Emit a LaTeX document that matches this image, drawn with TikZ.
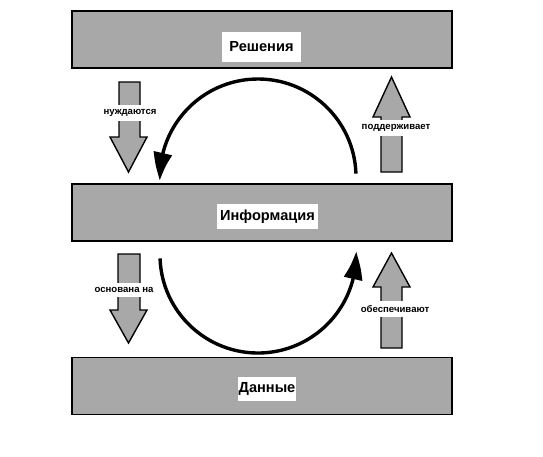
\documentclass[tikz,border=0pt]{standalone}
\usepackage{fontspec}
\setmainfont{Liberation Sans}
\usetikzlibrary{arrows.meta,bending}
\definecolor{bargray}{HTML}{A8A8A8}
\tikzset{
  bar/.style={draw=black, line width=1.6pt, fill=bargray, minimum width=380pt, minimum height=57pt, inner sep=0pt},
  mainlabel/.style={fill=white, font=\bfseries\fontsize{14.6}{17}\selectfont, inner sep=0pt},
  smalllabel/.style={fill=white, font=\bfseries\fontsize{9.6}{11}\selectfont, inner xsep=1pt, inner ysep=4pt},
  blockarrow/.style={draw=black, line width=1.4pt, fill=bargray, line join=miter},
  cycle arrow/.style={line width=3.4pt, -{Triangle[length=28pt,width=18pt,bend]}},
}
\begin{document}
\begin{tikzpicture}[x=1pt,y=-1pt]
\path[use as bounding box, fill=white] (0,0) rectangle (543,456);
% bars
\node[bar] (top) at (262,39.5) {};
\node[bar] (mid) at (262,212.5) {};
\node[bar] (bot) at (262,386) {};
% labels on bars
\node[mainlabel, minimum width=79pt, minimum height=30pt] (lres) at (261.5,47) {Решения};
\node[mainlabel, minimum width=101pt, minimum height=25pt] (linf) at (267.5,216.5) {Информация};
\node[mainlabel, minimum width=58pt, minimum height=24pt] (ldat) at (267,389) {Данные};
% block arrows
\draw[blockarrow] (119,82) -- (140,82) -- (140,137) -- (147,137) -- (128.5,172) -- (110,137) -- (119,137) -- cycle;
\draw[blockarrow] (118,254) -- (140,254) -- (140,310) -- (147,310) -- (128.5,343) -- (110,310) -- (118,310) -- cycle;
\draw[blockarrow] (381,172) -- (402,172) -- (402,117) -- (410,117) -- (391.5,77) -- (373,117) -- (381,117) -- cycle;
\draw[blockarrow] (381,348) -- (402,348) -- (402,287) -- (410,287) -- (391.5,253) -- (373,287) -- (381,287) -- cycle;
% arrow labels
\node[smalllabel] (lnu) at (130,113) {нуждаются};
\node[smalllabel] (los) at (124,290) {основана на};
\node[smalllabel] (lpo) at (396,128) {поддерживает};
\node[smalllabel] (lob) at (395,309) {обеспечивают};
% cycle arcs
\coordinate (upstart) at (355.94,173.58);
\coordinate (lowstart) at (160.06,258.42);
\draw[cycle arrow] (upstart) arc[start angle=-2, end angle=-182, radius=98];
\draw[cycle arrow] (lowstart) arc[start angle=178, end angle=-2, radius=98];
\end{tikzpicture}
\end{document}
